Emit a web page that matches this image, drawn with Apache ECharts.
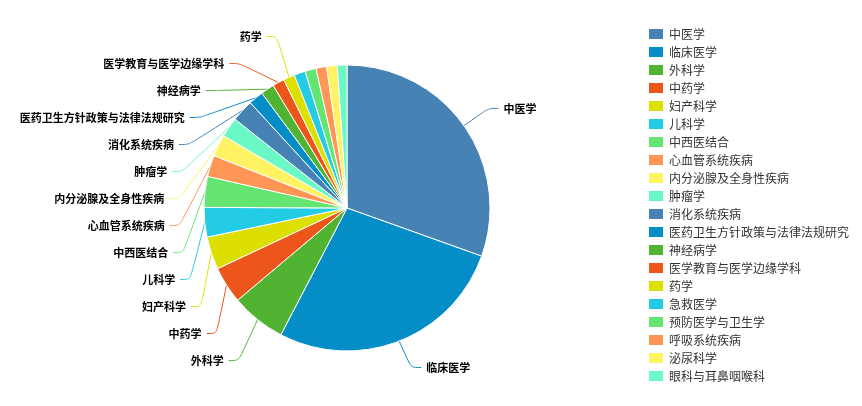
<!DOCTYPE html>
<html>
<head>
<meta charset="utf-8">
<script src="https://cdn.jsdelivr.net/npm/echarts@6/dist/echarts.min.js"></script>
<style>html,body{margin:0;padding:0;background:#fff;}#c{width:862px;height:406px;}</style>
</head>
<body>
<div id="c"></div>
<script>
var categories = ['中医学','临床医学','外科学','中药学','妇产科学','儿科学','中西医结合','心血管系统疾病','内分泌腺及全身性疾病','肿瘤学','消化系统疾病','医药卫生方针政策与法律法规研究','神经病学','医学教育与医学边缘学科','药学','急救医学','预防医学与卫生学','呼吸系统疾病','泌尿科学','眼科与耳鼻咽喉科'];
var values = [1095,977,223,150,133,120,125,87,88,81,90,60,55,48,46,46,45,43,43,39];
var labelShown = [true,true,true,true,true,true,true,true,true,true,true,true,true,true,true,false,false,false,false,false];
var palette = ['#4682b4','#058dc7','#50b432','#ed561b','#dddf00','#24cbe5','#64e572','#ff9655','#fff263','#6af9c4'];

var data = categories.map(function(n,i){
  var item = {name:n, value:values[i], label:{show:labelShown[i]}, labelLine:{show:labelShown[i]}};
  if (i === 0) item.label.lineHeight = 14;
  if (i === 1) { item.label.lineHeight = 4; item.labelLine.length = 33; }
  return item;
});
var chart = echarts.init(document.getElementById('c'));
chart.setOption({
  animation:false,
  color: palette,
  legend:{
    orient:'vertical', left:647, top:27, padding:0,
    itemWidth:16, itemHeight:12, itemGap:4,
    icon:'rect',
    textStyle:{fontSize:12,color:'#333',fontFamily:'Noto Sans CJK SC'},
    data: categories
  },
  series:[{
    type:'pie',
    left:0, top:0, width:862, height:374,
    center:[347,208],
    radius:143,
    startAngle:90,
    avoidLabelOverlap:true,
    itemStyle:{borderColor:'#fff',borderWidth:1},
    label:{color:'#000',fontSize:11,fontWeight:'bold',fontFamily:'Noto Sans CJK SC',lineHeight:25},
    labelLine:{length:30,length2:10,smooth:true,lineStyle:{width:1}},
    data:data
  }]
});
</script>
</body>
</html>
